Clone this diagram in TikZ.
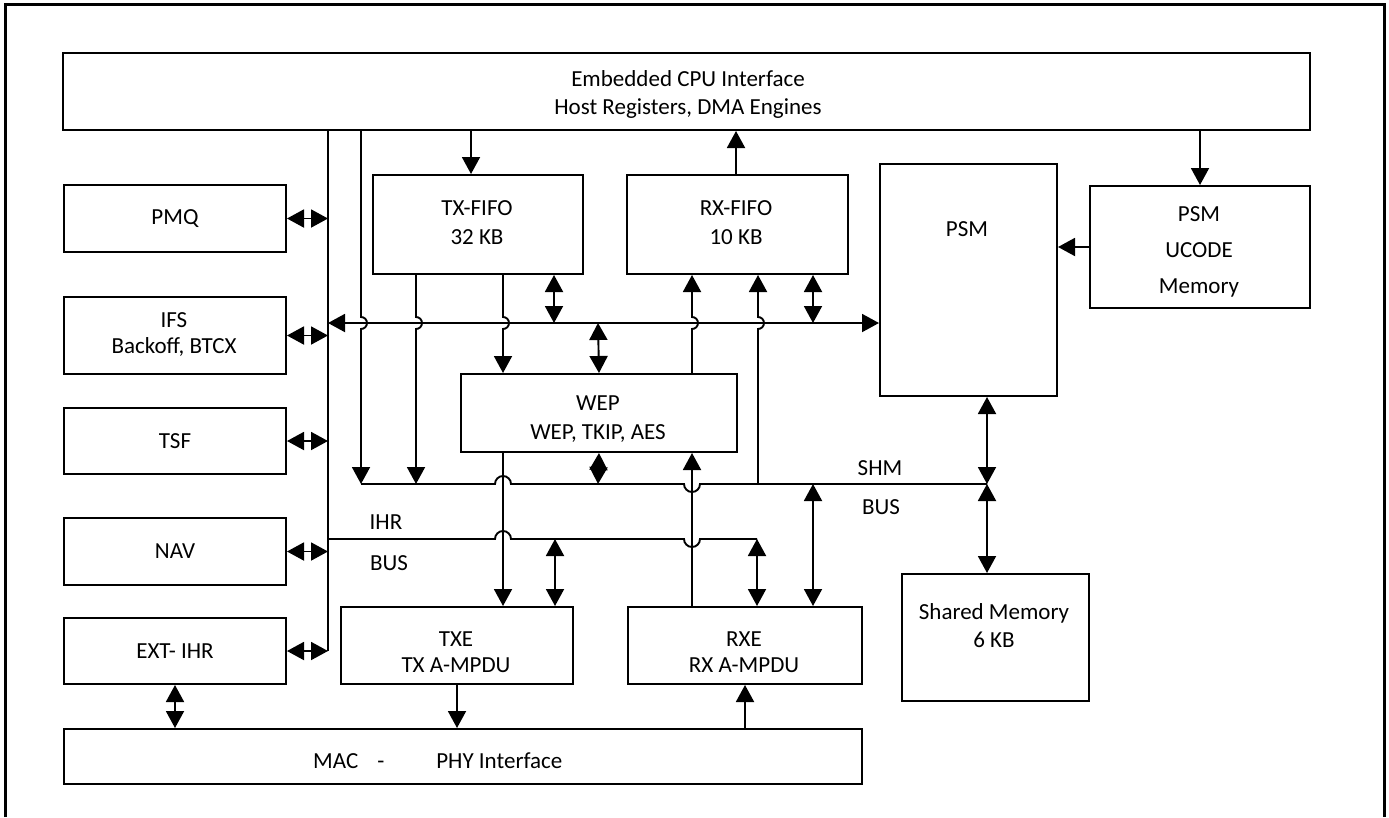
\documentclass[tikz,border=0pt]{standalone}
\usepackage{fontspec}
\setmainfont{Carlito}
\usetikzlibrary{arrows.meta}
\begin{document}
\begin{tikzpicture}[x=1pt,y=-1pt,
  box/.style={draw, line width=2pt, inner sep=0pt, anchor=north west},
  lbl/.style={inner sep=0pt, align=center, font=\fontsize{23}{28}\selectfont},
  conn/.style={line width=1.9pt},
  >={Triangle[length=17pt,width=18pt]}]
\useasboundingbox (0,0) rectangle (1389,817);
% frame
\draw[line width=3pt] (5,817) -- (5,4) -- (1384,4) -- (1384,817);
% boxes
\node[box, minimum width=1247pt, minimum height=77pt] (cpu) at (62,52) {};
\node[box, minimum width=222pt, minimum height=67pt] (pmq) at (63,184) {};
\node[box, minimum width=222pt, minimum height=77pt] (ifs) at (63,296) {};
\node[box, minimum width=222pt, minimum height=66pt] (tsf) at (63,407) {};
\node[box, minimum width=222pt, minimum height=67pt] (nav) at (63,517) {};
\node[box, minimum width=222pt, minimum height=66pt] (ext) at (63,617) {};
\node[box, minimum width=210pt, minimum height=99pt] (txfifo) at (372,174) {};
\node[box, minimum width=221pt, minimum height=99pt] (rxfifo) at (626,174) {};
\node[box, minimum width=177pt, minimum height=232pt] (psm) at (879,163) {};
\node[box, minimum width=220pt, minimum height=122pt] (ucode) at (1089,185) {};
\node[box, minimum width=276pt, minimum height=78pt] (wep) at (460,373) {};
\node[box, minimum width=232pt, minimum height=77pt] (txe) at (340,606) {};
\node[box, minimum width=234pt, minimum height=77pt] (rxe) at (627,606) {};
\node[box, minimum width=187pt, minimum height=127pt] (shmem) at (901,573) {};
\node[box, minimum width=798pt, minimum height=55pt] (mac) at (63,728) {};
% texts
\node[lbl] (cput) at (688,94) {Embedded CPU Interface\\Host Registers, DMA Engines};
\node[lbl] (pmqt) at (pmq.center) {PMQ};
\node[lbl, font=\fontsize{23}{26}\selectfont] (ifst) at (174,335) {IFS\\Backoff, BTCX};
\node[lbl] (tsft) at (tsf.center) {TSF};
\node[lbl] (navt) at (nav.center) {NAV};
\node[lbl] (extt) at (ext.center) {EXT- IHR};
\node[lbl, font=\fontsize{23}{29}\selectfont] (txfifot) at (477,222.5) {TX-FIFO\\32 KB};
\node[lbl, font=\fontsize{23}{29}\selectfont] (rxfifot) at (736,222.5) {RX-FIFO\\10 KB};
\node[lbl] (psmt) at (967,229) {PSM};
\node[lbl, font=\fontsize{23}{36}\selectfont] (ucodet) at (1199,252) {PSM\\UCODE\\Memory};
\node[lbl, font=\fontsize{23}{29}\selectfont] (wept) at (598,419.5) {WEP\\WEP, TKIP, AES};
\node[lbl, font=\fontsize{23}{26}\selectfont] (txet) at (456,652) {TXE\\TX A-MPDU};
\node[lbl, font=\fontsize{23}{26}\selectfont] (rxet) at (744,652) {RXE\\RX A-MPDU};
\node[lbl] (shmemt) at (994,626) {Shared Memory\\6 KB};
\node[lbl, anchor=west] (mact) at (313,761) {MAC\hspace{19pt}-\hspace{52pt}PHY Interface};
\node[lbl] (ihr1) at (386,522) {IHR};
\node[lbl] (ihr2) at (389,563) {BUS};
\node[lbl] (shm1) at (880,468) {SHM};
\node[lbl] (shm2) at (881,507) {BUS};
% bus coordinates
\coordinate (ifsL) at (328,323);
\coordinate (ihrL) at (328,539);
\coordinate (ihrR) at (757,539);
\coordinate (shmL) at (361,484);
\coordinate (shmR) at (987,484);
% main left bus
\draw[conn] (cpu.south -| ifsL) -- (ext.east -| ifsL);
% IHR bus
\draw[conn] (ihrL) -- (495,539) arc[start angle=180,end angle=360,radius=8] -- (684,539) arc[start angle=180,end angle=0,radius=8] -- (ihrR);
% SHM bus
\draw[conn] (shmL) -- (495,484) arc[start angle=180,end angle=360,radius=8] -- (684,484) arc[start angle=180,end angle=0,radius=8] -- (shmR);
% IFS bus
\draw[conn,<->] (ifsL) -- (psm.west |- ifsL);
% left box arrows
\draw[conn,<->] (pmq.east) -- (pmq.east -| ifsL);
\draw[conn,<->] (ifs.east) -- (ifs.east -| ifsL);
\draw[conn,<->] (tsf.east) -- (tsf.east -| ifsL);
\draw[conn,<->] (nav.east) -- (nav.east -| ifsL);
\draw[conn,<->] (ext.east) -- (ext.east -| ifsL);
% second vertical line
\draw[conn,->] (cpu.south -| shmL) -- (361,317) arc[start angle=-90,end angle=90,radius=6] -- (shmL);
% top arrows
\draw[conn,->] (cpu.south -| 471,0) -- (txfifo.north -| 471,0);
\draw[conn,->] (rxfifo.north -| 736,0) -- (cpu.south -| 736,0);
\draw[conn,->] (cpu.south -| ucode.north) -- (ucode.north);
\draw[conn,->] (ucode.west) -- (psm.east |- ucode.west);
% TX-FIFO lines
\draw[conn,->] (txfifo.south -| 416,0) -- (416,317) arc[start angle=-90,end angle=90,radius=6] -- (416,484);
\draw[conn,->] (txfifo.south -| 503,0) -- (503,317) arc[start angle=-90,end angle=90,radius=6] -- (wep.north -| 503,0);
\draw[conn,<->] (txfifo.south -| 554,0) -- (554,323);
% WEP
\draw[conn,<->] (598,323) -- (wep.north);
\draw[conn,<->] (wep.south) -- (598,484);
\draw[conn,->] (wep.south -| 503,0) -- (txe.north -| 503,0);
\draw[conn,->] (wep.north -| 692,0) -- (692,329) arc[start angle=90,end angle=-90,radius=6] -- (rxfifo.south -| 692,0);
\draw[conn,->] (rxe.north -| 692,0) -- (wep.south -| 692,0);
% RX-FIFO
\draw[conn,->] (758,484) -- (758,329) arc[start angle=90,end angle=-90,radius=6] -- (rxfifo.south -| 758,0);
\draw[conn,<->] (rxfifo.south -| 813,0) -- (813,323);
% TXE / RXE
\draw[conn,<->] (555,539) -- (txe.north -| 555,0);
\draw[conn,<->] (ihrR) -- (rxe.north -| ihrR);
\draw[conn,<->] (813,484) -- (rxe.north -| 813,0);
% PSM / shared memory
\draw[conn,<->] (psm.south -| shmR) -- (shmR);
\draw[conn,<->] (shmR) -- (shmem.north -| shmR);
% MAC
\draw[conn,<->] (ext.south -| 175,0) -- (mac.north -| 175,0);
\draw[conn,->] (txe.south) -- (mac.north -| txe.south);
\draw[conn,->] (mac.north -| 745,0) -- (rxe.south -| 745,0);
\end{tikzpicture}
\end{document}
